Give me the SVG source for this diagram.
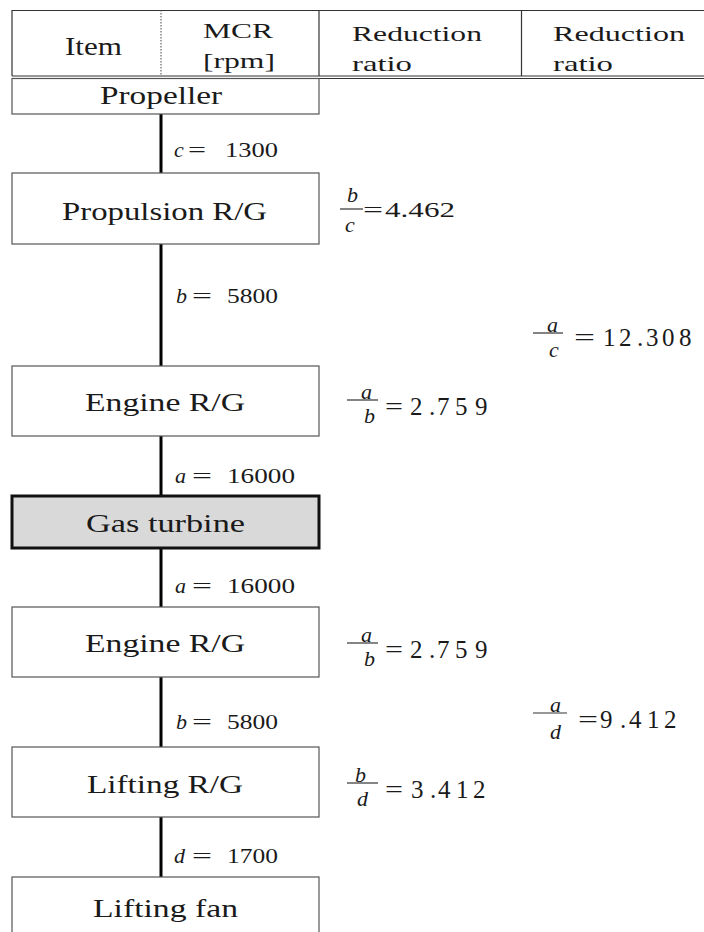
<svg xmlns="http://www.w3.org/2000/svg" width="704" height="932" viewBox="0 0 704 932">
  <style>
    text { font-family: 'Liberation Serif', serif; fill: #1a1a1a; }
    .h { font-size: 22px; }
    .lbl { font-size: 25px; }
    .num { font-size: 22px; }
    .rn { font-size: 25px; }
    .v { font-style: italic; font-size: 22px; }
    .box { fill: #fff; stroke: #555; stroke-width: 1.2; }
    .gt { fill: #d9d9d9; stroke: #111; stroke-width: 3; }
    .rule { stroke: #333; stroke-width: 1.2; fill: none; }
    .shaft { stroke: #000; stroke-width: 3; fill: none; }
    .bar { stroke: #333; stroke-width: 1.2; }
  </style>

  <rect width="704" height="932" fill="#fff"/>

  <!-- table header -->
  <g id="header">
    <line class="rule" x1="12" y1="10.5" x2="704" y2="10.5"/>
    <line class="rule" x1="12" y1="10" x2="12" y2="76"/>
    <line class="rule" x1="319" y1="10" x2="319" y2="76"/>
    <line class="rule" x1="521.5" y1="10" x2="521.5" y2="76"/>
    <line x1="161" y1="10" x2="161" y2="76" stroke="#444" stroke-width="1" stroke-dasharray="1.5 1.5"/>
    <line class="rule" x1="12" y1="76" x2="704" y2="76"/>
    <line class="rule" x1="12" y1="78.5" x2="704" y2="78.5"/>
    <text class="lbl" x="65" y="55" textLength="57" lengthAdjust="spacingAndGlyphs">Item</text>
    <text class="h" x="203" y="38" textLength="70" lengthAdjust="spacingAndGlyphs">MCR</text>
    <text class="h" x="203" y="68" textLength="72" lengthAdjust="spacingAndGlyphs">[rpm]</text>
    <text class="h" x="352" y="41" textLength="130" lengthAdjust="spacingAndGlyphs">Reduction</text>
    <text class="h" x="352" y="71" textLength="60" lengthAdjust="spacingAndGlyphs">ratio</text>
    <text class="h" x="553" y="41" textLength="132" lengthAdjust="spacingAndGlyphs">Reduction</text>
    <text class="h" x="553" y="71" textLength="60" lengthAdjust="spacingAndGlyphs">ratio</text>
  </g>

  <!-- shafts between stages -->
  <g id="shafts">
    <line class="shaft" x1="161" y1="114" x2="161" y2="173"/>
    <line class="shaft" x1="161" y1="244" x2="161" y2="366"/>
    <line class="shaft" x1="161" y1="436" x2="161" y2="496"/>
    <line class="shaft" x1="161" y1="548" x2="161" y2="607"/>
    <line class="shaft" x1="161" y1="677" x2="161" y2="747"/>
    <line class="shaft" x1="161" y1="817" x2="161" y2="877"/>
  </g>

  <!-- stages -->
  <g id="propeller">
    <rect class="box" x="12" y="78.5" width="307" height="35.5"/>
    <text class="lbl" x="100" y="104" font-size="24" textLength="122" lengthAdjust="spacingAndGlyphs">Propeller</text>
  </g>
  <g id="propulsion-rg">
    <rect class="box" x="12" y="173" width="307" height="71"/>
    <text class="lbl" x="62" y="220" textLength="205" lengthAdjust="spacingAndGlyphs">Propulsion  R/G</text>
  </g>
  <g id="engine-rg-1">
    <rect class="box" x="12" y="366" width="307" height="70"/>
    <text class="lbl" x="85" y="411" textLength="160" lengthAdjust="spacingAndGlyphs">Engine  R/G</text>
  </g>
  <g id="gas-turbine">
    <rect class="gt" x="12" y="496" width="307" height="52"/>
    <text class="lbl" x="86" y="532" textLength="159" lengthAdjust="spacingAndGlyphs">Gas  turbine</text>
  </g>
  <g id="engine-rg-2">
    <rect class="box" x="12" y="607" width="307" height="70"/>
    <text class="lbl" x="85" y="652" textLength="160" lengthAdjust="spacingAndGlyphs">Engine  R/G</text>
  </g>
  <g id="lifting-rg">
    <rect class="box" x="12" y="747" width="307" height="70"/>
    <text class="lbl" x="87" y="793" textLength="156" lengthAdjust="spacingAndGlyphs">Lifting  R/G</text>
  </g>
  <g id="lifting-fan">
    <rect class="box" x="12" y="877" width="307" height="70"/>
    <text class="lbl" x="93" y="917" textLength="145" lengthAdjust="spacingAndGlyphs">Lifting  fan</text>
  </g>

  <!-- shaft speeds -->
  <g id="speeds">
    <text class="v" x="174" y="157">c</text>
    <text class="num" x="188" y="157" textLength="18" lengthAdjust="spacingAndGlyphs">=</text>
    <text class="num" x="225" y="157" textLength="53" lengthAdjust="spacingAndGlyphs">1300</text>

    <text class="v" x="176" y="303">b</text>
    <text class="num" x="192" y="303" textLength="20" lengthAdjust="spacingAndGlyphs">=</text>
    <text class="num" x="227" y="303" textLength="51" lengthAdjust="spacingAndGlyphs">5800</text>

    <text class="v" x="175" y="483">a</text>
    <text class="num" x="192" y="483" textLength="20" lengthAdjust="spacingAndGlyphs">=</text>
    <text class="num" x="227" y="483" textLength="68" lengthAdjust="spacingAndGlyphs">16000</text>

    <text class="v" x="175" y="593">a</text>
    <text class="num" x="192" y="593" textLength="20" lengthAdjust="spacingAndGlyphs">=</text>
    <text class="num" x="227" y="593" textLength="68" lengthAdjust="spacingAndGlyphs">16000</text>

    <text class="v" x="176" y="729">b</text>
    <text class="num" x="192" y="729" textLength="20" lengthAdjust="spacingAndGlyphs">=</text>
    <text class="num" x="227" y="729" textLength="51" lengthAdjust="spacingAndGlyphs">5800</text>

    <text class="v" x="174" y="863">d</text>
    <text class="num" x="192" y="863" textLength="20" lengthAdjust="spacingAndGlyphs">=</text>
    <text class="num" x="227" y="863" textLength="51" lengthAdjust="spacingAndGlyphs">1700</text>
  </g>

  <!-- reduction ratios -->
  <g id="ratio-bc">
    <text class="v" x="347" y="202" font-size="20">b</text>
    <line class="bar" x1="340" y1="209" x2="363" y2="209"/>
    <text class="v" x="345" y="232" font-size="20">c</text>
    <text class="num" x="363" y="217" textLength="20" lengthAdjust="spacingAndGlyphs">=</text>
    <text class="num" x="385" y="217" textLength="70" lengthAdjust="spacingAndGlyphs">4.462</text>
  </g>
  <g id="ratio-ac">
    <line class="bar" x1="533" y1="333" x2="563" y2="333"/>
    <text class="v" x="547" y="332">a</text>
    <text class="v" x="549" y="357">c</text>
    <text class="rn" x="574" y="346" textLength="21" lengthAdjust="spacingAndGlyphs">=</text>
    <text class="rn" x="603 619 637 646 662 679" y="346">12.308</text>
  </g>
  <g id="ratio-ab-1">
    <line class="bar" x1="347" y1="400" x2="378" y2="400"/>
    <text class="v" x="361" y="399">a</text>
    <text class="v" x="364" y="423">b</text>
    <text class="rn" x="385" y="415" textLength="18" lengthAdjust="spacingAndGlyphs">=</text>
    <text class="rn" x="410 429 437 455 475" y="415">2.759</text>
  </g>
  <g id="ratio-ab-2">
    <line class="bar" x1="347" y1="643" x2="378" y2="643"/>
    <text class="v" x="361" y="642">a</text>
    <text class="v" x="364" y="666">b</text>
    <text class="rn" x="385" y="658" textLength="18" lengthAdjust="spacingAndGlyphs">=</text>
    <text class="rn" x="410 429 437 455 475" y="658">2.759</text>
  </g>
  <g id="ratio-ad">
    <line class="bar" x1="533" y1="713" x2="567" y2="713"/>
    <text class="v" x="550" y="712">a</text>
    <text class="v" x="550" y="739">d</text>
    <text class="rn" x="578" y="728" textLength="20" lengthAdjust="spacingAndGlyphs">=</text>
    <text class="rn" x="600 620 629 647 664" y="728">9.412</text>
  </g>
  <g id="ratio-bd">
    <line class="bar" x1="347" y1="783" x2="378" y2="783"/>
    <text class="v" x="355" y="782">b</text>
    <text class="v" x="357" y="806">d</text>
    <text class="rn" x="385" y="798" textLength="18" lengthAdjust="spacingAndGlyphs">=</text>
    <text class="rn" x="411 430 438 456 473" y="798">3.412</text>
  </g>
</svg>
